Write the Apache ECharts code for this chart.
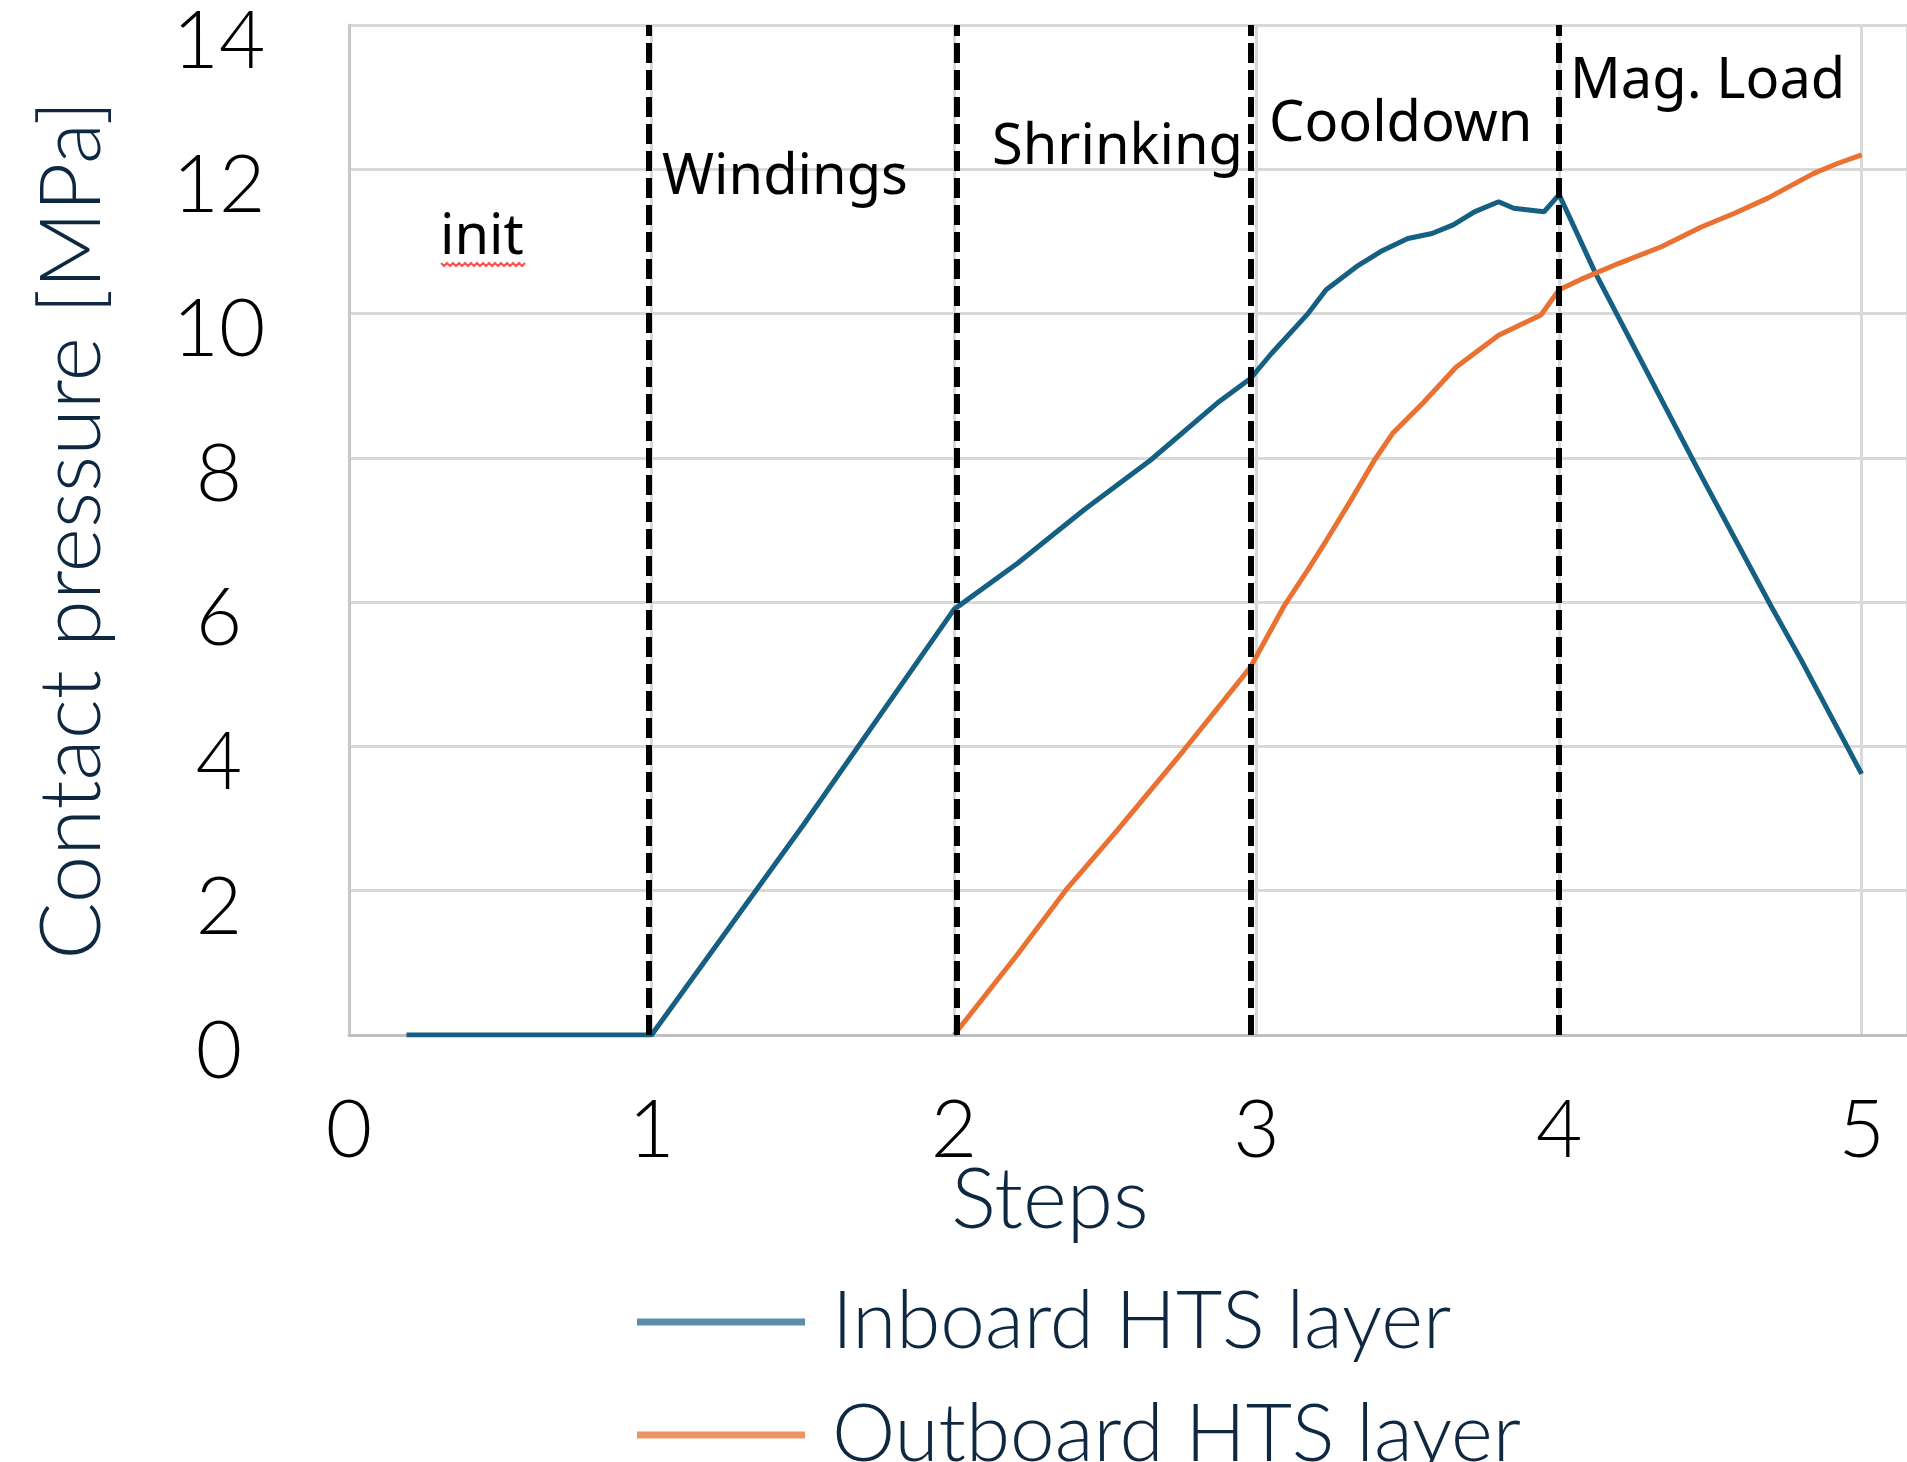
<!DOCTYPE html>
<html><head><meta charset="utf-8">
<script src="https://cdn.jsdelivr.net/npm/echarts@6/dist/echarts.min.js"></script>
<style>html,body{margin:0;padding:0;background:#fff}#c{width:1907px;height:1462px}</style>
</head><body><div id="c"></div>
<script>
// ---- data ----
const xTicks = [0, 1, 2, 3, 4, 5];
const yTicks = [0, 2, 4, 6, 8, 10, 12, 14];
const seriesNames = ['Inboard HTS layer', 'Outboard HTS layer'];
const inboardX = [0.19, 1.0, 1.5, 2.0, 2.21, 2.43, 2.65, 2.87, 2.98, 3.05, 3.17, 3.23, 3.33, 3.41, 3.50, 3.58, 3.65, 3.72, 3.80, 3.85, 3.95, 4.0, 4.12, 4.47, 4.70, 4.80, 5.0];
const inboardY = [0, 0, 2.9, 5.9, 6.54, 7.28, 7.97, 8.76, 9.1, 9.45, 10.0, 10.33, 10.65, 10.86, 11.04, 11.11, 11.23, 11.41, 11.55, 11.46, 11.41, 11.65, 10.56, 7.75, 5.95, 5.2, 3.62];
const outboardX = [2.0, 2.21, 2.37, 2.54, 2.76, 2.98, 3.09, 3.17, 3.23, 3.31, 3.39, 3.45, 3.55, 3.66, 3.80, 3.94, 4.0, 4.07, 4.20, 4.34, 4.47, 4.58, 4.69, 4.84, 4.92, 5.0];
const outboardY = [0, 1.12, 2.01, 2.84, 3.95, 5.1, 5.94, 6.45, 6.85, 7.4, 7.97, 8.34, 8.76, 9.26, 9.7, 9.98, 10.33, 10.47, 10.7, 10.93, 11.2, 11.39, 11.6, 11.94, 12.08, 12.2];
const phaseNames = ['init', 'Windings', 'Shrinking', 'Cooldown', 'Mag. Load'];
const phaseBoundaries = [0.99, 2.01, 2.98, 4.0];

// ---- chart ----
const chart = echarts.init(document.getElementById('c'), null, {renderer: 'canvas'});
const thinFont = 'Lato, "Open Sans", sans-serif';
const noteFont = '"Noto Sans", sans-serif';
const noteStyle = (t, x, y) => ({
  type: 'text', x: x, y: y, z: 10,
  style: {text: t, font: '56px ' + noteFont, fill: '#000', align: 'left', verticalAlign: 'middle'}
});
const notePos = [[440, 238], [662, 178], [992, 148], [1269, 125], [1570, 82]];

// red spell-check squiggle under "init"
const squiggle = [];
for (let i = 0; i <= 28; i++) squiggle.push([441 + i * 3, 264 + (i % 2 ? 2 : -1)]);

const option = {
  animation: false,
  backgroundColor: '#fff',
  grid: {left: 349, right: 0, top: 25, bottom: 427, containLabel: false, outerBoundsMode: 'none'},
  xAxis: {
    type: 'value', min: xTicks[0], max: 5.15, interval: 1,
    name: 'Steps', nameLocation: 'middle', nameGap: 124, nameMoveOverlap: false,
    nameTextStyle: {fontFamily: thinFont, fontWeight: 300, fontSize: 84, color: '#0e2841', padding: [0, 156, 0, 0]},
    axisLine: {show: true, lineStyle: {color: '#bfbfbf', width: 3}},
    axisTick: {show: false},
    axisLabel: {
      fontFamily: thinFont, fontWeight: 300, fontSize: 80, color: '#000', margin: 56,
      formatter: v => (xTicks.indexOf(v) >= 0 ? String(v) : '')
    },
    splitLine: {show: true, lineStyle: {color: '#d9d9d9', width: 3}}
  },
  yAxis: {
    type: 'value', min: yTicks[0], max: yTicks[yTicks.length - 1], interval: 2,
    name: 'Contact pressure [MPa]', nameLocation: 'middle', nameGap: 234, nameRotate: 90, nameMoveOverlap: false,
    nameTextStyle: {fontFamily: thinFont, fontWeight: 300, fontSize: 85, color: '#0e2841'},
    axisLine: {show: true, lineStyle: {color: '#c8c8c8', width: 3}},
    axisTick: {show: false},
    axisLabel: {
      fontFamily: thinFont, fontWeight: 300, fontSize: 80, color: '#000', margin: 130,
      align: 'center', verticalAlign: 'top', lineHeight: 34
    },
    splitLine: {show: true, lineStyle: {color: '#d9d9d9', width: 3}}
  },
  legend: {
    orient: 'vertical', left: 632, top: 1277, itemWidth: 168, itemHeight: 7, itemGap: 33,
    icon: 'rect', height: 300,
    textStyle: {fontFamily: thinFont, fontWeight: 300, fontSize: 80, lineHeight: 56, color: '#0e2841', padding: [0, 0, 0, 22]},
    data: [
      {name: seriesNames[0], itemStyle: {color: '#5b8cab'}},
      {name: seriesNames[1], itemStyle: {color: '#ee9462'}}
    ]
  },
  series: [
    {
      type: 'line', name: 'phases', data: [], z: 1, silent: true,
      markLine: {
        silent: true, symbol: 'none', label: {show: false},
        lineStyle: {color: '#000', width: 6, type: [20, 7]},
        data: phaseBoundaries.map(b => [{coord: [b, yTicks[0]]}, {coord: [b, yTicks[yTicks.length - 1]]}])
      }
    },
    {
      type: 'line', name: seriesNames[0], z: 3, showSymbol: false, symbol: 'none',
      lineStyle: {color: '#156082', width: 5}, itemStyle: {color: '#156082'},
      data: inboardX.map((x, i) => [x, inboardY[i]])
    },
    {
      type: 'line', name: seriesNames[1], z: 3, showSymbol: false, symbol: 'none',
      lineStyle: {color: '#E97132', width: 5}, itemStyle: {color: '#E97132'},
      data: outboardX.map((x, i) => [x, outboardY[i]])
    }
  ],
  graphic: phaseNames.map((t, i) => noteStyle(t, notePos[i][0], notePos[i][1])).concat([
    {type: 'polyline', z: 10, shape: {points: squiggle}, style: {stroke: '#ff5050', lineWidth: 2, fill: null}}
  ])
};
chart.setOption(option);
</script>
</body></html>
